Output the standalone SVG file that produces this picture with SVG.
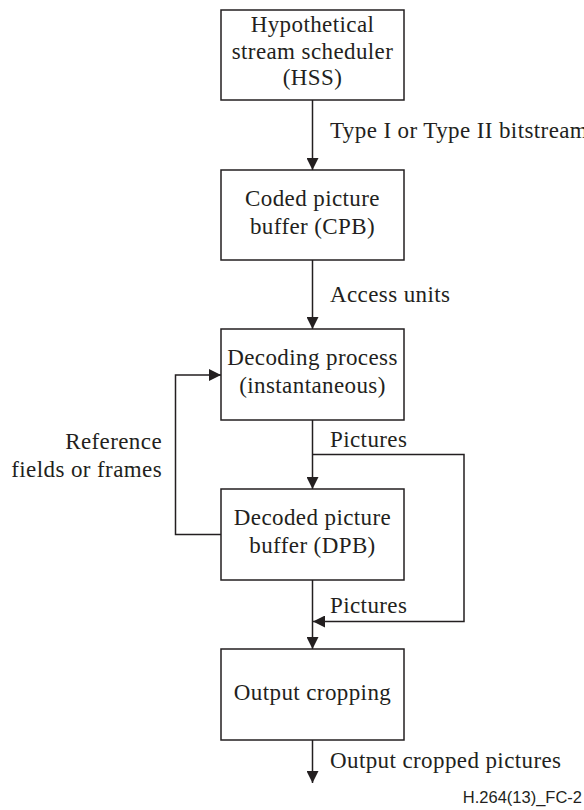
<svg xmlns="http://www.w3.org/2000/svg" width="584" height="810" viewBox="0 0 584 810">
<style>
.box{fill:#fff;stroke:#231f20;stroke-width:1.5}
.t{font-family:"Liberation Serif","Times New Roman","DejaVu Serif",serif;font-size:23px;letter-spacing:0.4px;fill:#231f20}
.c{text-anchor:middle}
.e{text-anchor:end}
.ln{fill:none;stroke:#231f20;stroke-width:1.5}
.f{font-family:"Liberation Sans",Arial,sans-serif;font-size:16.5px;fill:#231f20}
</style>
<defs>
<marker id="ah" viewBox="0 0 12 12" refX="12" refY="6" markerWidth="12" markerHeight="12" markerUnits="userSpaceOnUse" orient="auto">
<path d="M0,0 L12,6 L0,12 Z" fill="#231f20"/>
</marker>
</defs>
<g id="connectors">
<line class="ln" x1="312.5" y1="100" x2="312.5" y2="170" marker-end="url(#ah)"/>
<line class="ln" x1="312.5" y1="260" x2="312.5" y2="329" marker-end="url(#ah)"/>
<line class="ln" x1="312.5" y1="420" x2="312.5" y2="489" marker-end="url(#ah)"/>
<line class="ln" x1="312.5" y1="580" x2="312.5" y2="649" marker-end="url(#ah)"/>
<line class="ln" x1="312.5" y1="740" x2="312.5" y2="783" marker-end="url(#ah)"/>
<polyline class="ln" points="312.5,454.5 464,454.5 464,621.5 313,621.5" marker-end="url(#ah)"/>
<polyline class="ln" points="221,534.5 175.5,534.5 175.5,375 221,375" marker-end="url(#ah)"/>
<text class="t" x="330" y="138">Type I or Type II bitstream</text>
<text class="t" x="330" y="302">Access units</text>
<text class="t" x="330" y="447">Pictures</text>
<text class="t" x="330" y="613">Pictures</text>
<text class="t" x="330" y="768">Output cropped pictures</text>
<text class="t e" x="162" y="449">Reference</text>
<text class="t e" x="162" y="477">fields or frames</text>
</g>
<g id="hss">
<rect class="box" x="221" y="10" width="183" height="90"/>
<text class="t c" x="312.5" y="32">Hypothetical</text>
<text class="t c" x="312.5" y="59">stream scheduler</text>
<text class="t c" x="312.5" y="85">(HSS)</text>
</g>
<g id="cpb">
<rect class="box" x="221" y="170" width="183" height="90"/>
<text class="t c" x="312.5" y="206">Coded picture</text>
<text class="t c" x="312.5" y="234">buffer (CPB)</text>
</g>
<g id="decoding">
<rect class="box" x="221" y="329" width="183" height="91"/>
<text class="t c" x="312.5" y="365">Decoding process</text>
<text class="t c" x="312.5" y="393">(instantaneous)</text>
</g>
<g id="dpb">
<rect class="box" x="221" y="489" width="183" height="91"/>
<text class="t c" x="312.5" y="525">Decoded picture</text>
<text class="t c" x="312.5" y="553">buffer (DPB)</text>
</g>
<g id="cropping">
<rect class="box" x="221" y="649" width="183" height="91"/>
<text class="t c" x="312.5" y="700">Output cropping</text>
</g>
<text class="f e" x="582" y="803">H.264(13)_FC-2</text>
</svg>
